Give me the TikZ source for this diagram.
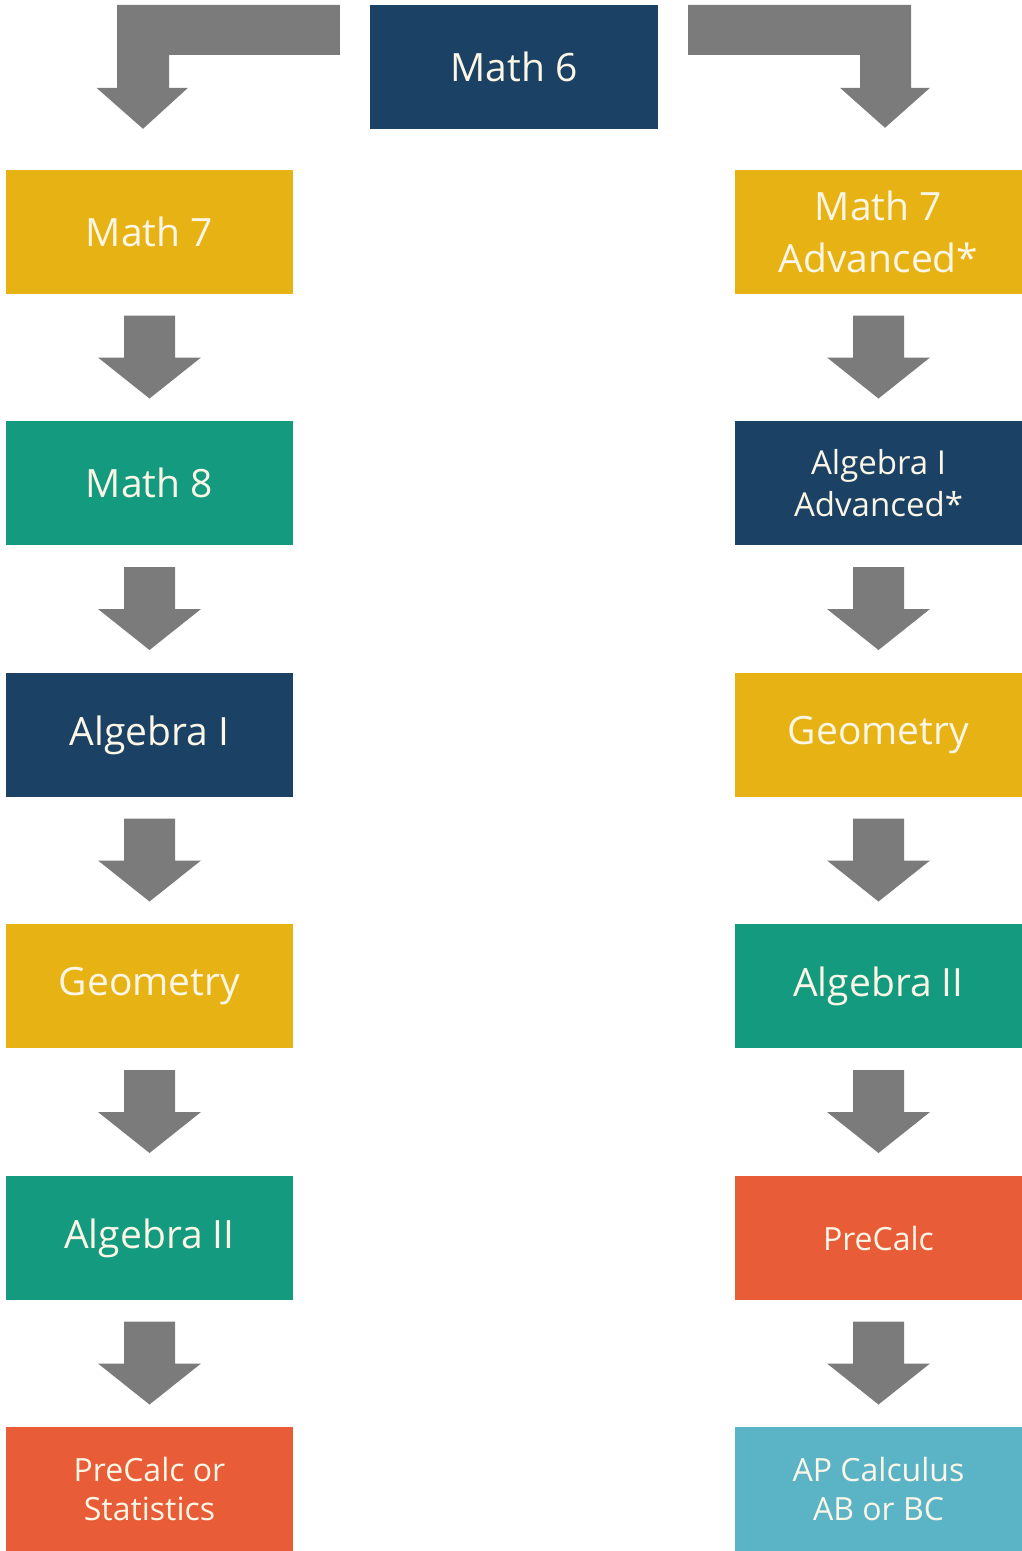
\documentclass[tikz,border=0pt]{standalone}
\usepackage{fontspec}
\setmainfont{Open Sans}
\usetikzlibrary{calc}
\definecolor{cnavy}{HTML}{1B4264}
\definecolor{cyellow}{HTML}{E7B213}
\definecolor{cteal}{HTML}{139A7F}
\definecolor{corange}{HTML}{E85C38}
\definecolor{cblue}{HTML}{5BB3C6}
\definecolor{cgray}{HTML}{7B7B7B}
\definecolor{ctext}{HTML}{FBF6E6}
\tikzset{
  course/.style={rectangle, minimum width=287pt, minimum height=124pt, inner sep=0pt,
    text=ctext, align=center, font=\fontsize{39}{52}\selectfont},
  small/.style={font=\fontsize{33}{42}\selectfont},
  tiny/.style={font=\fontsize{32}{39}\selectfont},
  arrowfill/.style={fill=cgray}
}
\newcommand\blockarrow[2]{%
  \fill[arrowfill] ($(#1.south)!0.5!(#2.north)+(-25.5,-42)$) -- ++(51,0) -- ++(0,42) -- ++(26,0)
    -- ++(-51.5,41) -- ++(-51.5,-41) -- ++(26,0) -- cycle;}
\begin{document}
\begin{tikzpicture}[x=1pt,y=-1pt]
\useasboundingbox[fill=white] (0,0) rectangle (1022,1551);
\node[course, fill=cnavy, minimum width=288pt] (m6) at (514,67) {Math 6};
% left column
\node[course, fill=cyellow] (l1) at (149.5,232) {Math 7};
\node[course, fill=cteal] (l2) at (149.5,483) {Math 8};
\node[course, fill=cnavy] (l3) at (149.5,735) {Algebra I};
\node[course, fill=cyellow] (l4) at (149.5,986) {Geometry};
\node[course, fill=cteal] (l5) at (149.5,1238) {Algebra II};
\node[course, tiny, fill=corange] (l6) at (149.5,1489) {PreCalc or\\Statistics};
% right column
\node[course, fill=cyellow] (r1) at (878.5,232) {Math 7\\Advanced*};
\node[course, small, fill=cnavy] (r2) at (878.5,483) {Algebra I\\Advanced*};
\node[course, fill=cyellow] (r3) at (878.5,735) {Geometry};
\node[course, fill=cteal] (r4) at (878.5,986) {Algebra II};
\node[course, tiny, fill=corange] (r5) at (878.5,1238) {PreCalc};
\node[course, tiny, fill=cblue] (r6) at (878.5,1489) {AP Calculus\\AB or BC};
% top bent arrows
\fill[arrowfill] ($(m6.north west)+(-30,0)$) -| ($(l1.north)+(-32.5,-82)$) -- ++(-20.5,0)
  -- ($(l1.north)+(-6.5,-41)$) -- ($(l1.north)+(38.5,-82)$) -- ++(-19,0)
  |- ($(m6.north west)+(-30,50)$) -- cycle;
\fill[arrowfill] ($(m6.north east)+(30,0)$) -| ($(r1.north)+(32.5,-82)$) -- ++(19,0)
  -- ($(r1.north)+(6.5,-42)$) -- ($(r1.north)+(-38.5,-82)$) -- ++(20,0)
  |- ($(m6.north east)+(30,50)$) -- cycle;
% down arrows
\blockarrow{l1}{l2}\blockarrow{l2}{l3}\blockarrow{l3}{l4}\blockarrow{l4}{l5}\blockarrow{l5}{l6}
\blockarrow{r1}{r2}\blockarrow{r2}{r3}\blockarrow{r3}{r4}\blockarrow{r4}{r5}\blockarrow{r5}{r6}
\end{tikzpicture}
\end{document}
